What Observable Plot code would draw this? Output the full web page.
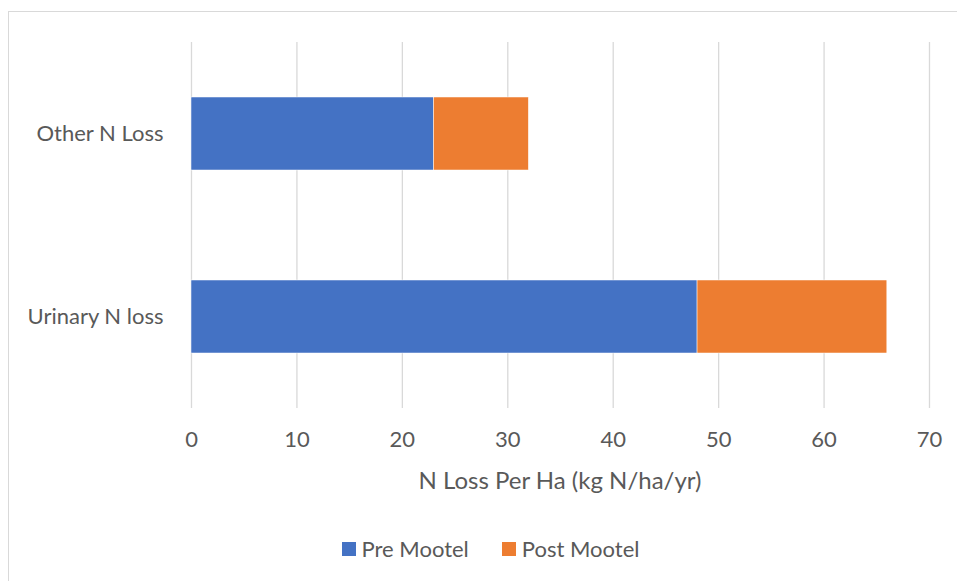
<!DOCTYPE html>
<html>
<head>
<meta charset="utf-8">
<script src="https://cdn.jsdelivr.net/npm/d3@7"></script>
<script src="https://cdn.jsdelivr.net/npm/@observablehq/plot@0.6"></script>
<style>
  html, body { margin: 0; padding: 0; background: #fff; }
  #wrap { position: relative; width: 957px; height: 581px; overflow: hidden; font-family: Lato, "Open Sans", sans-serif; color: #595959; }
  #frame { position: absolute; left: 8px; top: 11px; width: 1000px; height: 700px; border: 1.5px solid #d9d9d9; box-sizing: border-box; }
  #chart { position: absolute; left: 0; top: 0; }
  #xtitle { position: absolute; left: 191px; width: 738px; top: 466px; text-align: center; font-size: 24px; line-height: 28px; }
  #legend { position: absolute; left: 12px; width: 957px; top: 536px; display: flex; justify-content: center; gap: 33px; font-size: 22px; line-height: 26px; }
  .item { display: flex; align-items: center; gap: 6px; }
  .swatch { width: 14px; height: 14px; display: inline-block; }
</style>
</head>
<body>
<div id="wrap">
  <div id="frame"></div>
  <div id="chart"></div>
  <div id="xtitle"></div>
  <div id="legend"></div>
</div>
<script>
// Nitrogen loss per hectare, before and after Mootel
const categories = ["Other N Loss", "Urinary N loss"];
const seriesNames = ["Pre Mootel", "Post Mootel"];
const preMootel = [23, 48];
const postMootel = [9, 18];
const xTicks = [0, 10, 20, 30, 40, 50, 60, 70];
const xTitle = "N Loss Per Ha (kg N/ha/yr)";
const colors = ["#4472C4", "#ED7D31"];

const rows = [];
categories.forEach((c, i) => {
  rows.push({category: c, series: seriesNames[0], value: preMootel[i]});
  rows.push({category: c, series: seriesNames[1], value: postMootel[i]});
});

const chart = Plot.plot({
  width: 957,
  height: 500,
  marginLeft: 191,
  marginRight: 28,
  marginTop: 42,
  marginBottom: 92,
  style: {fontFamily: "Lato, 'Open Sans', sans-serif", color: "#595959", background: "transparent"},
  x: {domain: [0, 70], ticks: xTicks},
  y: {domain: categories, paddingInner: 0.6, paddingOuter: 0.3, label: null},
  color: {domain: seriesNames, range: colors},
  marks: [
    Plot.gridX(xTicks, {stroke: "#d9d9d9", strokeOpacity: 1, strokeWidth: 1.3}),
    Plot.barX(rows, Plot.stackX({y: "category", x: "value", fill: "series", order: null, stroke: "#fff", strokeWidth: 0.5})),
    Plot.axisX(xTicks, {tickSize: 0, tickPadding: 23, fontSize: 22, label: null, fill: "#595959"}),
    Plot.axisY({tickSize: 0, tickPadding: 28, fontSize: 22, label: null, fill: "#595959"})
  ]
});
document.getElementById("chart").appendChild(chart);

document.getElementById("xtitle").textContent = xTitle;

const legend = document.getElementById("legend");
seriesNames.forEach((name, i) => {
  const item = document.createElement("div");
  item.className = "item";
  const sw = document.createElement("span");
  sw.className = "swatch";
  sw.style.background = colors[i];
  const label = document.createElement("span");
  label.textContent = name;
  item.appendChild(sw);
  item.appendChild(label);
  legend.appendChild(item);
});
</script>
</body>
</html>
